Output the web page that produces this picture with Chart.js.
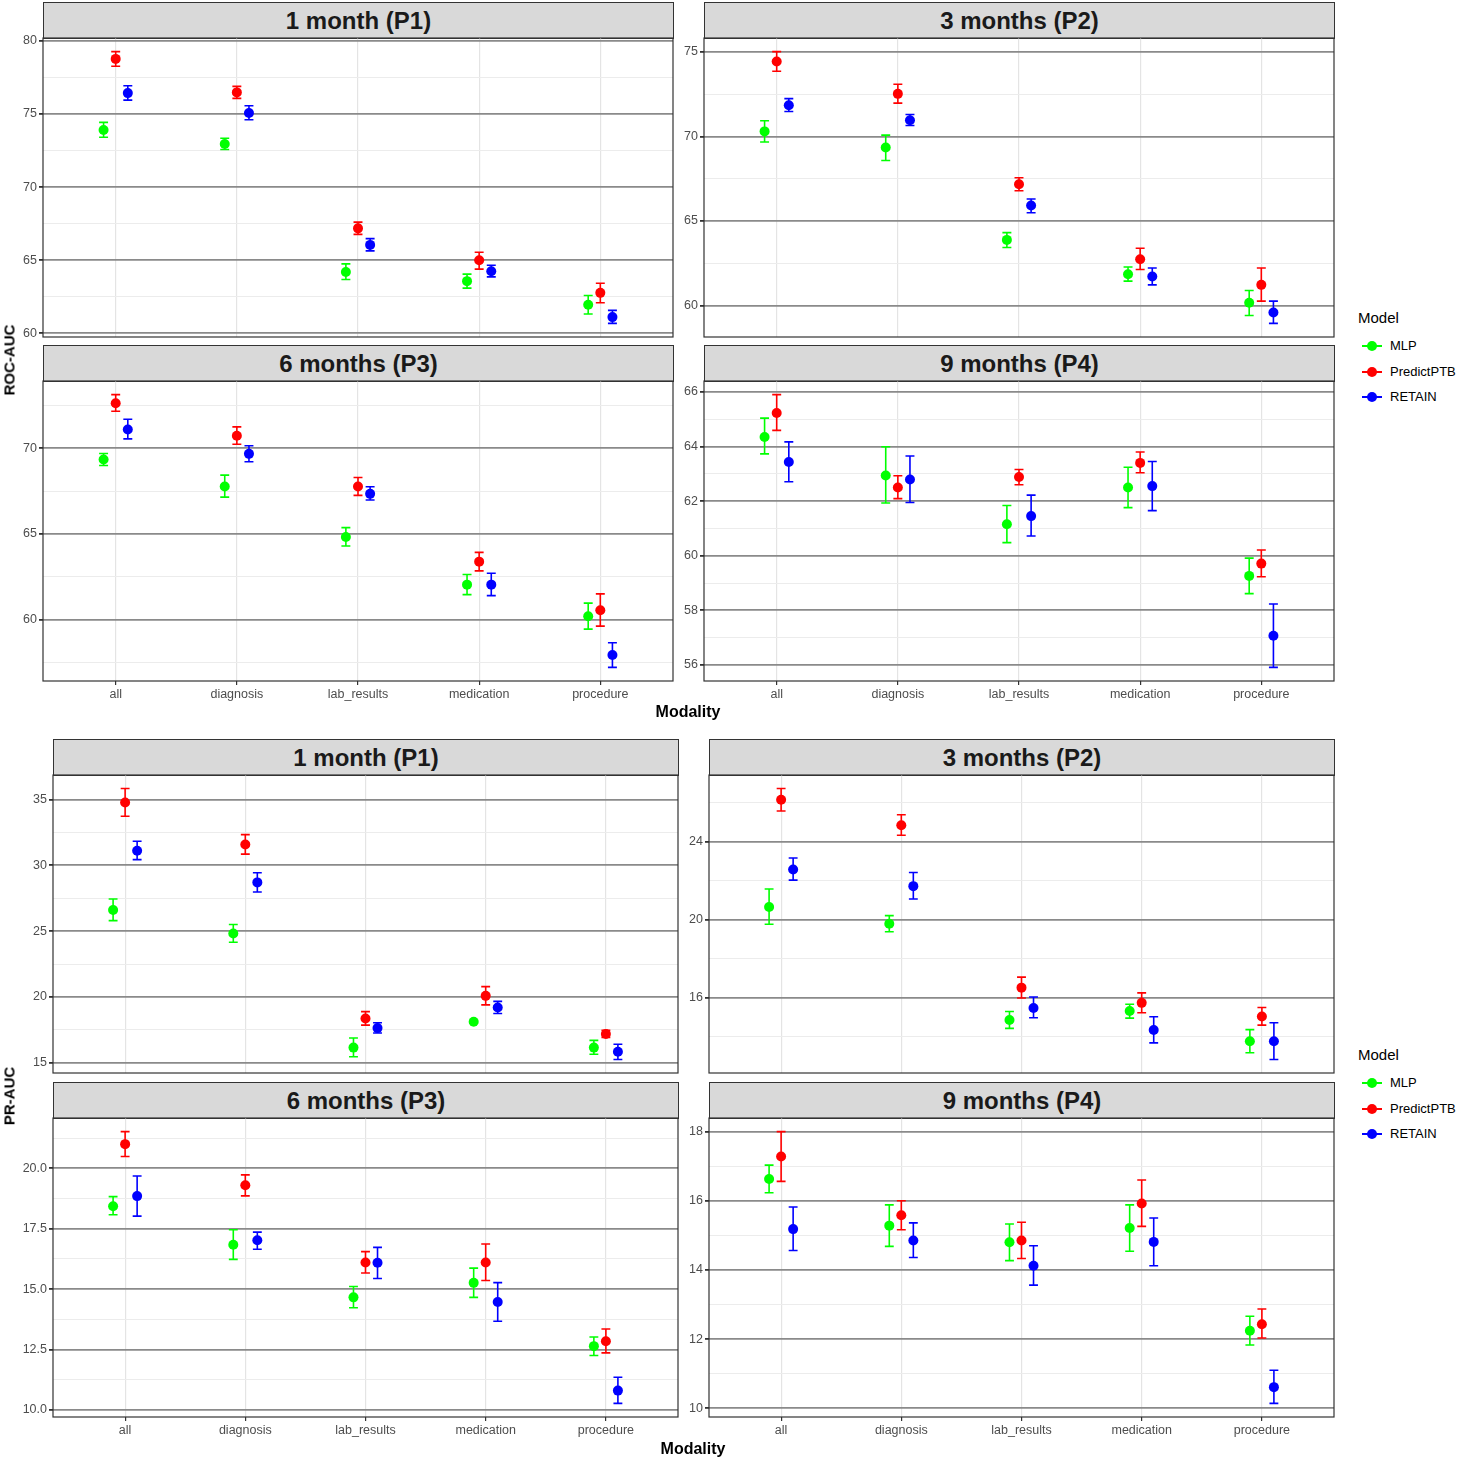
<!DOCTYPE html>
<html>
<head>
<meta charset="utf-8">
<script src="https://cdn.jsdelivr.net/npm/chart.js@4.4.1/dist/chart.umd.min.js"></script>
<style>
  body { margin: 0; background: #fff; width: 1457px; height: 1460px; position: relative; overflow: hidden;
         font-family: "Liberation Sans", Arial, sans-serif; }
  canvas { position: absolute; }
  .strip { position: absolute; box-sizing: border-box; background: #d9d9d9; border: 1px solid #333;
           font-weight: bold; font-size: 24px; color: #1a1a1a; text-align: center; }
  .ttl { position: absolute; font-weight: bold; color: #000; white-space: nowrap; transform: translate(-50%, -50%); }
  .lg { position: absolute; color: #000; white-space: nowrap; }
</style>
</head>
<body>
<script>
// categories / series
const MODALITIES = ['all', 'diagnosis', 'lab_results', 'medication', 'procedure'];
const MODELS = ['MLP', 'PredictPTB', 'RETAIN'];
const COLORS = ['#00ff00', '#ff0000', '#0000ff'];

// [mean, lower, upper] per modality
const ROC_P1_MLP = [[73.91,73.41,74.43],[72.95,72.57,73.34],[64.20,63.68,64.75],[63.57,63.09,64.05],[61.95,61.32,62.59]];
const ROC_P1_PTB = [[78.77,78.27,79.27],[76.48,76.07,76.89],[67.18,66.77,67.61],[65.00,64.39,65.55],[62.77,62.09,63.43]];
const ROC_P1_RET = [[76.43,75.95,76.93],[75.07,74.61,75.57],[66.05,65.64,66.48],[64.25,63.86,64.66],[61.11,60.68,61.57]];

const ROC_P2_MLP = [[70.30,69.67,70.93],[69.35,68.58,70.08],[63.88,63.43,64.31],[61.85,61.44,62.28],[60.16,59.41,60.89]];
const ROC_P2_PTB = [[74.43,73.86,75.02],[72.52,71.97,73.09],[67.17,66.79,67.56],[62.74,62.13,63.39],[61.22,60.26,62.22]];
const ROC_P2_RET = [[71.85,71.48,72.24],[70.96,70.65,71.30],[65.91,65.49,66.30],[61.71,61.22,62.22],[59.59,58.94,60.26]];

const ROC_P3_MLP = [[69.34,68.99,69.69],[67.77,67.15,68.43],[64.83,64.30,65.37],[62.05,61.47,62.64],[60.21,59.46,60.97]];
const ROC_P3_PTB = [[72.62,72.15,73.12],[70.72,70.23,71.24],[67.77,67.25,68.29],[63.39,62.85,63.93],[60.56,59.63,61.51]];
const ROC_P3_RET = [[71.09,70.54,71.69],[69.67,69.21,70.14],[67.34,66.98,67.75],[62.05,61.41,62.71],[57.95,57.23,58.66]];

const ROC_P4_MLP = [[64.35,63.73,65.04],[62.94,61.93,63.99],[61.15,60.48,61.84],[62.50,61.76,63.24],[59.26,58.61,59.91]];
const ROC_P4_PTB = [[65.23,64.59,65.90],[62.50,62.09,62.93],[62.88,62.60,63.16],[63.40,63.04,63.80],[59.71,59.23,60.21]];
const ROC_P4_RET = [[63.43,62.71,64.17],[62.79,61.95,63.65],[61.45,60.72,62.22],[62.55,61.65,63.45],[57.07,55.91,58.23]];

const PR_P1_MLP = [[26.61,25.80,27.44],[24.82,24.15,25.50],[16.15,15.45,16.88],[18.11,18.04,18.18],[16.15,15.65,16.70]];
const PR_P1_PTB = [[34.77,33.72,35.83],[31.58,30.85,32.33],[18.36,17.86,18.88],[20.08,19.40,20.78],[17.18,16.93,17.46]];
const PR_P1_RET = [[31.10,30.43,31.83],[28.70,27.97,29.43],[17.63,17.26,18.04],[19.20,18.74,19.66],[15.83,15.25,16.41]];

const PR_P2_MLP = [[20.64,19.76,21.56],[19.78,19.37,20.20],[14.85,14.42,15.29],[15.31,14.95,15.66],[13.76,13.17,14.36]];
const PR_P2_PTB = [[26.14,25.56,26.71],[24.83,24.32,25.37],[16.51,15.98,17.05],[15.73,15.22,16.24],[15.03,14.59,15.49]];
const PR_P2_RET = [[22.56,22.02,23.15],[21.71,21.05,22.41],[15.47,14.97,16.03],[14.34,13.68,15.02],[13.76,12.83,14.71]];

const PR_P3_MLP = [[18.43,18.08,18.83],[16.84,16.23,17.46],[14.66,14.23,15.11],[15.26,14.66,15.87],[12.64,12.25,13.02]];
const PR_P3_PTB = [[21.00,20.49,21.52],[19.30,18.86,19.73],[16.10,15.67,16.55],[16.10,15.36,16.87],[12.84,12.36,13.35]];
const PR_P3_RET = [[18.85,18.02,19.68],[17.02,16.65,17.36],[16.09,15.44,16.73],[14.47,13.67,15.27],[10.80,10.27,11.35]];

const PR_P4_MLP = [[16.63,16.23,17.03],[15.28,14.68,15.88],[14.80,14.27,15.33],[15.21,14.54,15.88],[12.24,11.83,12.66]];
const PR_P4_PTB = [[17.28,16.56,18.00],[15.58,15.16,16.00],[14.85,14.33,15.38],[15.92,15.26,16.60],[12.43,12.03,12.87]];
const PR_P4_RET = [[15.18,14.56,15.82],[14.85,14.36,15.36],[14.12,13.56,14.70],[14.81,14.12,15.50],[10.61,10.14,11.10]];

// tick values and labels
const ROC_P1_TICKS = [60, 65, 70, 75, 80];
const ROC_P2_TICKS = [60, 65, 70, 75];
const ROC_P3_TICKS = [60, 65, 70];
const ROC_P4_TICKS = [56, 58, 60, 62, 64, 66];
const PR_P1_TICKS = [15, 20, 25, 30, 35];
const PR_P2_TICKS = [16, 20, 24];
const PR_P3_TICKS = [10, 12.5, 15, 17.5, 20];
const PR_P3_LABELS = ['10.0', '12.5', '15.0', '17.5', '20.0'];
const PR_P4_TICKS = [10, 12, 14, 16, 18];

const DODGE = [-0.1, 0, 0.1];
const FONT = '"Liberation Sans", Arial, sans-serif';

// layout: plot area box [left, top, right, bottom]
const PANELS = [
  {title: '1 month (P1)',  rows: [ROC_P1_MLP, ROC_P1_PTB, ROC_P1_RET], ticks: ROC_P1_TICKS, box: [43, 38, 673, 337],   showX: false},
  {title: '3 months (P2)', rows: [ROC_P2_MLP, ROC_P2_PTB, ROC_P2_RET], ticks: ROC_P2_TICKS, box: [704, 38, 1334, 337],  showX: false},
  {title: '6 months (P3)', rows: [ROC_P3_MLP, ROC_P3_PTB, ROC_P3_RET], ticks: ROC_P3_TICKS, box: [43, 381, 673, 681],  showX: true},
  {title: '9 months (P4)', rows: [ROC_P4_MLP, ROC_P4_PTB, ROC_P4_RET], ticks: ROC_P4_TICKS, box: [704, 381, 1334, 681], showX: true},
  {title: '1 month (P1)',  rows: [PR_P1_MLP, PR_P1_PTB, PR_P1_RET], ticks: PR_P1_TICKS, box: [53, 775, 678, 1073],   showX: false},
  {title: '3 months (P2)', rows: [PR_P2_MLP, PR_P2_PTB, PR_P2_RET], ticks: PR_P2_TICKS, box: [709, 775, 1334, 1073],  showX: false},
  {title: '6 months (P3)', rows: [PR_P3_MLP, PR_P3_PTB, PR_P3_RET], ticks: PR_P3_TICKS, labels: PR_P3_LABELS, box: [53, 1118, 678, 1417],  showX: true},
  {title: '9 months (P4)', rows: [PR_P4_MLP, PR_P4_PTB, PR_P4_RET], ticks: PR_P4_TICKS, box: [709, 1118, 1334, 1417], showX: true},
];

const errorBars = {
  id: 'errorBars',
  beforeDatasetsDraw(chart) {
    const {ctx, scales: {x, y}} = chart;
    ctx.save();
    ctx.lineWidth = 1.6;
    chart.data.datasets.forEach(ds => {
      ctx.strokeStyle = ds.borderColor;
      ds.data.forEach(d => {
        const px = x.getPixelForValue(d.x);
        const a = x.getPixelForValue(d.x - 0.037), b = x.getPixelForValue(d.x + 0.037);
        const y1 = y.getPixelForValue(d.lo), y2 = y.getPixelForValue(d.hi);
        ctx.beginPath();
        ctx.moveTo(px, y1); ctx.lineTo(px, y2);
        ctx.moveTo(a, y1); ctx.lineTo(b, y1);
        ctx.moveTo(a, y2); ctx.lineTo(b, y2);
        ctx.stroke();
      });
    });
    ctx.restore();
  },
  afterDraw(chart) {
    const {ctx, chartArea: c} = chart;
    ctx.save();
    ctx.strokeStyle = '#333';
    ctx.lineWidth = 1.2;
    ctx.strokeRect(c.left, c.top, c.right - c.left, c.bottom - c.top);
    ctx.restore();
  }
};

function makePanel(p) {
  const [L, T, R, B] = p.box;
  const YW = 40, PT = 10, PR = 2, PB = p.showX ? 0 : 8, XH = p.showX ? 26 : 0;
  const w = (R - L) + YW + PR, h = (B - T) + PT + PB + XH;

  const strip = document.createElement('div');
  strip.className = 'strip';
  Object.assign(strip.style, {left: L + 'px', top: (T - 36) + 'px', width: (R - L + 1) + 'px',
    height: '37px', lineHeight: '35px'});
  strip.textContent = p.title;
  document.body.appendChild(strip);

  const cv = document.createElement('canvas');
  cv.width = w; cv.height = h;
  Object.assign(cv.style, {left: (L - YW) + 'px', top: (T - PT) + 'px', width: w + 'px', height: h + 'px'});
  document.body.appendChild(cv);

  // free y scale: data range expanded by 5%
  const vals = p.rows.flatMap(r => r.flatMap(t => [t[1], t[2]]));
  const lo = Math.min(...vals), hi = Math.max(...vals), pad = (hi - lo) * 0.05;
  const ymin = lo - pad, ymax = hi + pad;
  const step = p.ticks[1] - p.ticks[0];
  const minor = [];
  for (let v = p.ticks[0] - step / 2; v < ymax; v += step) if (v > ymin && !p.ticks.includes(v)) minor.push(v);
  const isMajor = v => p.ticks.includes(v);

  new Chart(cv, {
    type: 'scatter',
    data: {
      datasets: MODELS.map((m, k) => ({
        label: m,
        data: p.rows[k].map((t, i) => ({x: i + 1 + DODGE[k], y: t[0], lo: t[1], hi: t[2]})),
        backgroundColor: COLORS[k],
        borderColor: COLORS[k],
        borderWidth: 0,
        pointRadius: 5,
        pointHoverRadius: 5,
      }))
    },
    options: {
      responsive: false,
      animation: false,
      events: [],
      layout: {autoPadding: false, padding: {left: 0, top: PT, right: PR, bottom: PB}},
      plugins: {legend: {display: false}, tooltip: {enabled: false}},
      scales: {
        x: {
          type: 'linear', min: 0.4, max: 5.6,
          afterBuildTicks: s => { s.ticks = MODALITIES.map((_, i) => ({value: i + 1})); },
          afterFit: s => { s.height = XH; s.paddingLeft = 0; s.paddingRight = 0; },
          ticks: {display: p.showX, autoSkip: false, maxRotation: 0, padding: 2,
                  color: '#4d4d4d', font: {size: 12.5, family: FONT},
                  callback: v => MODALITIES[v - 1]},
          grid: {color: '#e4e4e4', lineWidth: 1.2, drawTicks: p.showX, tickLength: 4, tickColor: '#333'},
          border: {display: false}
        },
        y: {
          type: 'linear', min: ymin, max: ymax,
          afterBuildTicks: s => { s.ticks = [...p.ticks, ...minor].sort((a, b) => a - b).map(v => ({value: v})); },
          afterFit: s => { s.width = YW; s.paddingTop = 0; s.paddingBottom = 0; },
          ticks: {autoSkip: false, padding: 2, color: '#4d4d4d', font: {size: 12.5, family: FONT},
                  callback: v => {
                    const i = p.ticks.indexOf(v);
                    return i < 0 ? '' : (p.labels ? p.labels[i] : String(v));
                  }},
          grid: {
            color: c => isMajor(c.tick.value) ? '#8a8a8a' : '#ececec',
            lineWidth: c => isMajor(c.tick.value) ? 1.8 : 1,
            tickColor: c => isMajor(c.tick.value) ? '#333' : 'rgba(0,0,0,0)',
            tickLength: 4
          },
          border: {display: false}
        }
      }
    },
    plugins: [errorBars]
  });
}

function addText(text, x, y, size, rotate) {
  const d = document.createElement('div');
  d.className = 'ttl';
  d.textContent = text;
  Object.assign(d.style, {left: x + 'px', top: y + 'px', fontSize: size + 'px'});
  if (rotate) d.style.transform = 'translate(-50%, -50%) rotate(-90deg)';
  document.body.appendChild(d);
}

function addLegend(top) {
  const head = document.createElement('div');
  head.className = 'lg';
  Object.assign(head.style, {left: '1358px', top: (top - 9) + 'px', fontSize: '15px'});
  head.textContent = 'Model';
  document.body.appendChild(head);
  MODELS.forEach((m, k) => {
    const cy = top + 28 + k * 25.5;
    const line = document.createElement('div');
    Object.assign(line.style, {position: 'absolute', left: '1362px', top: (cy - 1) + 'px', width: '20px',
      height: '2px', background: COLORS[k]});
    const dot = document.createElement('div');
    Object.assign(dot.style, {position: 'absolute', left: '1367px', top: (cy - 5) + 'px', width: '10px',
      height: '10px', borderRadius: '50%', background: COLORS[k]});
    const lab = document.createElement('div');
    lab.className = 'lg';
    Object.assign(lab.style, {left: '1390px', top: (cy - 8) + 'px', fontSize: '13px'});
    lab.textContent = m;
    document.body.append(line, dot, lab);
  });
}

PANELS.forEach(makePanel);
addText('ROC-AUC', 9, 360, 15, true);
addText('Modality', 688, 712, 16, false);
addText('PR-AUC', 9, 1096, 15, true);
addText('Modality', 693, 1449, 16, false);
addLegend(318);
addLegend(1055);
</script>
</body>
</html>
